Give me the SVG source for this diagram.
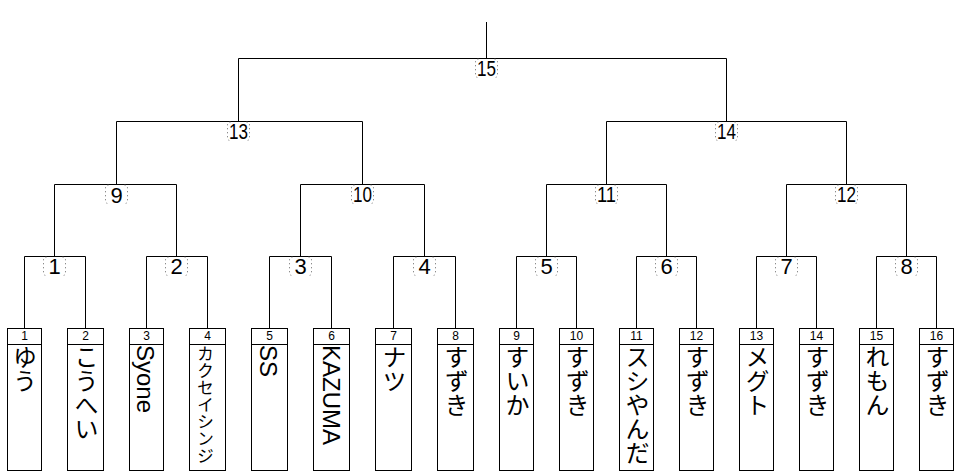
<svg xmlns="http://www.w3.org/2000/svg" xmlns:xlink="http://www.w3.org/1999/xlink" width="958" height="476" viewBox="0 0 958 476">
<style>
.ln{fill:none;stroke:#000;stroke-width:1}
.box{fill:#fff;stroke:#000;stroke-width:1}
.seed{font-family:"Liberation Sans",Arial,sans-serif;font-size:12px;text-anchor:middle;fill:#000}
.name{font-family:"Liberation Sans","Noto Sans CJK JP",sans-serif;font-size:24px;writing-mode:vertical-rl;fill:#000}
.small{font-size:17px}
.mno{font-family:"Liberation Sans",Arial,sans-serif;font-size:22px;text-anchor:middle;fill:#000}
.dot{fill:none;stroke:#666;stroke-width:1;stroke-dasharray:1 3}
</style>
<defs>
<path id="lb" class="dot" d="M-8,0.5 Q-11,0.5 -11,3.5 V16.5 Q-11,19 -8,19 M8,0.5 Q11,0.5 11,3.5 V16.5 Q11,19 8,19"/>
</defs>
<rect width="958" height="476" fill="#fff"/>
<g id="connectors">
<path class="ln" d="M486.5,22 V58.5"/>
<path class="ln" d="M238.5,121.5 V58.5 H726.5 V121.5"/>
<path class="ln" d="M116.5,184.5 V121.5 H362.5 V184.5"/>
<path class="ln" d="M606.5,184.5 V121.5 H846.5 V184.5"/>
<path class="ln" d="M54.5,256.5 V184.5 H176.5 V256.5"/>
<path class="ln" d="M300.5,256.5 V184.5 H424.5 V256.5"/>
<path class="ln" d="M546.5,256.5 V184.5 H666.5 V256.5"/>
<path class="ln" d="M786.5,256.5 V184.5 H906.5 V256.5"/>
<path class="ln" d="M24.5,328.5 V256.5 H85.5 V328.5"/>
<path class="ln" d="M146.5,328.5 V256.5 H207.5 V328.5"/>
<path class="ln" d="M269.5,328.5 V256.5 H331.5 V328.5"/>
<path class="ln" d="M393.5,328.5 V256.5 H455.5 V328.5"/>
<path class="ln" d="M516.5,328.5 V256.5 H576.5 V328.5"/>
<path class="ln" d="M636.5,328.5 V256.5 H696.5 V328.5"/>
<path class="ln" d="M756.5,328.5 V256.5 H816.5 V328.5"/>
<path class="ln" d="M876.5,328.5 V256.5 H936.5 V328.5"/>
</g>
<g id="match-15"><use xlink:href="#lb" x="486.5" y="58.5"/><text class="mno" x="486.5" y="76.3" textLength="19" lengthAdjust="spacingAndGlyphs">15</text></g>
<g id="match-13"><use xlink:href="#lb" x="238.5" y="121.5"/><text class="mno" x="238.5" y="139.3" textLength="19" lengthAdjust="spacingAndGlyphs">13</text></g>
<g id="match-14"><use xlink:href="#lb" x="726.5" y="121.5"/><text class="mno" x="726.5" y="139.3" textLength="19" lengthAdjust="spacingAndGlyphs">14</text></g>
<g id="match-9"><use xlink:href="#lb" x="116.5" y="184.5"/><text class="mno" x="116.5" y="202.5">9</text></g>
<g id="match-10"><use xlink:href="#lb" x="362.5" y="184.5"/><text class="mno" x="362.5" y="202.3" textLength="19" lengthAdjust="spacingAndGlyphs">10</text></g>
<g id="match-11"><use xlink:href="#lb" x="606.5" y="184.5"/><text class="mno" x="606.5" y="202.3" textLength="19" lengthAdjust="spacingAndGlyphs">11</text></g>
<g id="match-12"><use xlink:href="#lb" x="846.5" y="184.5"/><text class="mno" x="846.5" y="202.3" textLength="19" lengthAdjust="spacingAndGlyphs">12</text></g>
<g id="match-1"><use xlink:href="#lb" x="54.5" y="256.5"/><text class="mno" x="54.5" y="274">1</text></g>
<g id="match-2"><use xlink:href="#lb" x="176.5" y="256.5"/><text class="mno" x="176.5" y="274">2</text></g>
<g id="match-3"><use xlink:href="#lb" x="300.5" y="256.5"/><text class="mno" x="300.5" y="274">3</text></g>
<g id="match-4"><use xlink:href="#lb" x="424.5" y="256.5"/><text class="mno" x="424.5" y="274">4</text></g>
<g id="match-5"><use xlink:href="#lb" x="546.5" y="256.5"/><text class="mno" x="546.5" y="274">5</text></g>
<g id="match-6"><use xlink:href="#lb" x="666.5" y="256.5"/><text class="mno" x="666.5" y="274">6</text></g>
<g id="match-7"><use xlink:href="#lb" x="786.5" y="256.5"/><text class="mno" x="786.5" y="274">7</text></g>
<g id="match-8"><use xlink:href="#lb" x="906.5" y="256.5"/><text class="mno" x="906.5" y="274">8</text></g>

<g id="player-1"><rect class="box" x="7.5" y="328.5" width="34" height="142"/><path class="ln" d="M7.5,344.5 H41.5"/><text class="seed" x="24.5" y="340">1</text><text class="name" x="23" y="345">ゆう</text></g>
<g id="player-2"><rect class="box" x="67.5" y="328.5" width="36" height="142"/><path class="ln" d="M67.5,344.5 H103.5"/><text class="seed" x="85.5" y="340">2</text><text class="name" x="84.5" y="345">こうへい</text></g>
<g id="player-3"><rect class="box" x="129.5" y="328.5" width="34" height="142"/><path class="ln" d="M129.5,344.5 H163.5"/><text class="seed" x="146.5" y="340">3</text><text class="name" x="145.5" y="345">Syone</text></g>
<g id="player-4"><rect class="box" x="189.5" y="328.5" width="36" height="142"/><path class="ln" d="M189.5,344.5 H225.5"/><text class="seed" x="207.5" y="340">4</text><text class="name small" x="203.5" y="345">カクセイシンジ</text></g>
<g id="player-5"><rect class="box" x="251.5" y="328.5" width="36" height="142"/><path class="ln" d="M251.5,344.5 H287.5"/><text class="seed" x="269.5" y="340">5</text><text class="name" x="268.5" y="345">SS</text></g>
<g id="player-6"><rect class="box" x="313.5" y="328.5" width="36" height="142"/><path class="ln" d="M313.5,344.5 H349.5"/><text class="seed" x="331.5" y="340">6</text><text class="name" x="331" y="345">KAZUMA</text></g>
<g id="player-7"><rect class="box" x="375.5" y="328.5" width="36" height="142"/><path class="ln" d="M375.5,344.5 H411.5"/><text class="seed" x="393.5" y="340">7</text><text class="name" x="392.5" y="345">ナツ</text></g>
<g id="player-8"><rect class="box" x="437.5" y="328.5" width="36" height="142"/><path class="ln" d="M437.5,344.5 H473.5"/><text class="seed" x="455.5" y="340">8</text><text class="name" x="454.5" y="345">すずき</text></g>
<g id="player-9"><rect class="box" x="499.5" y="328.5" width="34" height="142"/><path class="ln" d="M499.5,344.5 H533.5"/><text class="seed" x="516.5" y="340">9</text><text class="name" x="515.5" y="345">すいか</text></g>
<g id="player-10"><rect class="box" x="559.5" y="328.5" width="34" height="142"/><path class="ln" d="M559.5,344.5 H593.5"/><text class="seed" x="576.5" y="340">10</text><text class="name" x="575.5" y="345">すずき</text></g>
<g id="player-11"><rect class="box" x="619.5" y="328.5" width="34" height="142"/><path class="ln" d="M619.5,344.5 H653.5"/><text class="seed" x="636.5" y="340">11</text><text class="name" x="635.5" y="345">スシやんだ</text></g>
<g id="player-12"><rect class="box" x="679.5" y="328.5" width="34" height="142"/><path class="ln" d="M679.5,344.5 H713.5"/><text class="seed" x="696.5" y="340">12</text><text class="name" x="695.5" y="345">すずき</text></g>
<g id="player-13"><rect class="box" x="739.5" y="328.5" width="34" height="142"/><path class="ln" d="M739.5,344.5 H773.5"/><text class="seed" x="756.5" y="340">13</text><text class="name" x="755.5" y="345">メグト</text></g>
<g id="player-14"><rect class="box" x="799.5" y="328.5" width="34" height="142"/><path class="ln" d="M799.5,344.5 H833.5"/><text class="seed" x="816.5" y="340">14</text><text class="name" x="815.5" y="345">すずき</text></g>
<g id="player-15"><rect class="box" x="859.5" y="328.5" width="34" height="142"/><path class="ln" d="M859.5,344.5 H893.5"/><text class="seed" x="876.5" y="340">15</text><text class="name" x="875.5" y="345">れもん</text></g>
<g id="player-16"><rect class="box" x="919.5" y="328.5" width="34" height="142"/><path class="ln" d="M919.5,344.5 H953.5"/><text class="seed" x="936.5" y="340">16</text><text class="name" x="935.5" y="345">すずき</text></g>
</svg>
